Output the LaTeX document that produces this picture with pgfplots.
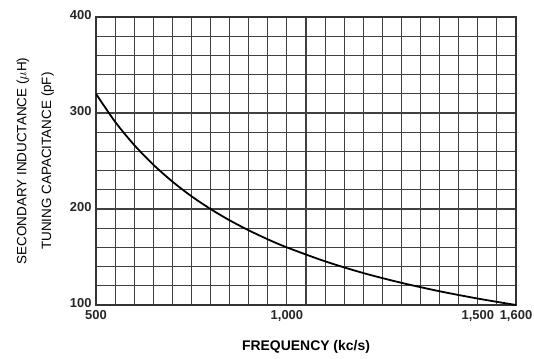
\documentclass[border=0pt]{standalone}
\usepackage{pgfplots}
\pgfplotsset{compat=1.18}
\usepackage{fontspec}
\setmainfont{Liberation Sans}
\usetikzlibrary{calc}
\begin{document}
\begin{tikzpicture}
\begin{axis}[
  scale only axis,
  width=420bp, height=288bp,
  xmin=500, xmax=1600, ymin=100, ymax=400,
  xtick={500,550,600,650,700,750,800,850,900,950,1000,1050,1100,1150,1200,1250,1300,1350,1400,1450,1500,1550,1600},
  xticklabels={500,,,,,,,,,,{1,000},,,,,,,,,,{1,500},,{1,600}},
  ytick={100,120,140,160,180,200,220,240,260,280,300,320,340,360,380,400},
  yticklabels={100,,,,,200,,,,,300,,,,,400},
  grid=major,
  major grid style={black!75, line width=1.1pt},
  major tick length=0pt,
  axis line style={black!80, line width=1.3pt},
  tick label style={font=\fontsize{13}{15}\selectfont\bfseries, black!85},
  xticklabel style={yshift=-2bp},
  yticklabel style={xshift=-1bp, yshift=2bp},
  xlabel={FREQUENCY (kc/s)},
  xlabel style={font=\fontsize{14}{16}\selectfont\bfseries, yshift=-12bp},
  ylabel={SECONDARY INDUCTANCE ($\mu$H)\\TUNING CAPACITANCE (pF)},
  ylabel style={font=\fontsize{13.5}{25}\selectfont, align=center, yshift=9bp},
  /pgf/number format/assume math mode=true,
]
\addplot[black, line width=1.8pt, smooth] coordinates {
(500,320) (550,290.9) (600,266.7) (650,246.2) (700,228.6) (750,213.3)
(800,200) (850,188.2) (900,177.8) (950,168.4) (1000,160) (1100,145.5)
(1200,133.3) (1300,123.1) (1400,114.3) (1500,106.7) (1600,100)
};
\coordinate (sw) at (rel axis cs:0,0);
\coordinate (ne) at (rel axis cs:1,1);
\end{axis}
\pgfresetboundingbox
\path[use as bounding box] ($(sw)+(-96bp,-54bp)$) rectangle ($(ne)+(18bp,17bp)$);
\end{tikzpicture}
\end{document}
